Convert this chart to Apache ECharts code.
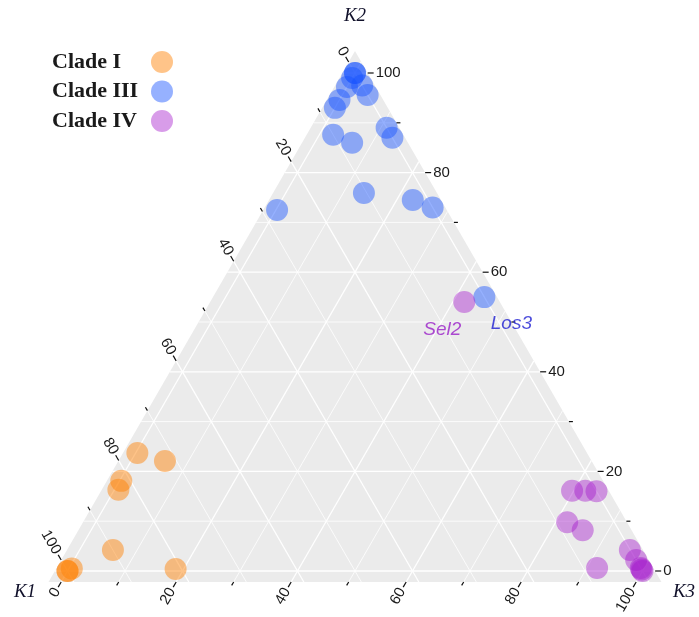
<!DOCTYPE html>
<html>
<head>
<meta charset="utf-8">
<script src="https://cdn.jsdelivr.net/npm/echarts@6/dist/echarts.min.js"></script>
<style>html,body{margin:0;padding:0;background:#fff}#c{width:699px;height:617px}</style>
</head>
<body>
<div id="c"></div>
<script>
// ---- data: [K1, K2, K3] compositions (percent) ----
const cladeI = [[100,0,0],[100,0,0],[99,0.5,0.5],[90,4.2,5.8],[81,0.4,18.6],[83,16.3,0.7],[81.6,18.1,0.3],[76,23.7,0.3],[72,22.1,5.9]];
const cladeIII = [[0,100,0],[0,100,0],[1,99,0],[0,97.5,2.5],[0,95.6,4.4],[2.8,97.2,0],[5.4,94.6,0],[7,93,0],[10,87.6,2.4],[7.5,86,6.5],[0,89,11],[0,87,13],[27.3,72.5,0.2],[10.5,75.9,13.6],[2.7,74.5,22.8],[0,73,27]];
const cladeIV = [[4.2,16.1,79.7],[1.9,16.1,82],[0,16,84],[8.2,9.8,82],[6.3,8.2,85.5],[0.1,4.2,95.7],[0,2.2,97.8],[0,0.6,99.4],[0,0.3,99.7],[0,0,100],[7.6,0.6,91.8]];
const los3 = [0,55,45];   // Clade III, labelled
const sel2 = [4,54,42];   // Clade IV, labelled
const seriesNames = ['Clade I','Clade III','Clade IV'];
const axisNames = ['K1','K2','K3'];
const gridValues = [0,10,20,30,40,50,60,70,80,90,100];
const tickLabels = ['0','20','40','60','80','100'];

const SQ = Math.sqrt(3)/2;
function toXY(k){ const s=k[0]+k[1]+k[2]; const b=k[1]*100/s, c=k[2]*100/s; return [c + b/2, b*SQ]; }
const D = 2.2; // panel expansion (ternary units)

function renderPanel(params, api){
  const P = (k1,k2,k3) => api.coord([k3 + k2/2, k2*SQ]);
  const ch = [];
  ch.push({type:'polygon', shape:{points:[P(100+2*D,-D,-D),P(-D,100+2*D,-D),P(-D,-D,100+2*D)]}, style:{fill:'#EBEBEB'}, silent:true});
  gridValues.forEach(v=>{
    const major = v%20===0;
    const segs = [
      [P(100-v+D, v, -D), P(-D, v, 100-v+D)],
      [P(v, 100-v+D, -D), P(v, -D, 100-v+D)],
      [P(100-v+D, -D, v), P(-D, 100-v+D, v)]
    ];
    segs.forEach(s=>ch.push({type:'line', shape:{x1:s[0][0],y1:s[0][1],x2:s[1][0],y2:s[1][1]}, style:{stroke:'#ffffff', lineWidth: major?1.3:0.8}, silent:true}));
  });
  const font = '15px "Liberation Sans"';
  gridValues.forEach(v=>{
    const major = v%20===0;
    const len = major?6:4;
    const lab = tickLabels[tickLabels.indexOf(String(v))];
    const defs = [
      {s:P(-D, v, 100-v+D), d:[1,0], rot:0, align:'left'},            // K2 right
      {s:P(100-v+D, -D, v), d:[-0.5,SQ], rot:Math.PI/3, align:'right'}, // K3 bottom
      {s:P(v, 100-v+D, -D), d:[-0.5,-SQ], rot:-Math.PI/3, align:'right'} // K1 left
    ];
    defs.forEach(t=>{
      const e=[t.s[0]+t.d[0]*len, t.s[1]+t.d[1]*len];
      ch.push({type:'line', shape:{x1:t.s[0],y1:t.s[1],x2:e[0],y2:e[1]}, style:{stroke:'#111', lineWidth:1.2}, silent:true});
      if (major && lab!==undefined){
        ch.push({type:'text', x:e[0]+t.d[0]*2, y:e[1]+t.d[1]*2, rotation:t.rot,
          style:{text:lab, font:font, fill:'#1a1a1a', align:t.align, verticalAlign:'middle'}, silent:true});
      }
    });
  });
  const tf = 'italic 19px "Liberation Serif"';
  ch.push({type:'text', x:355, y:16, style:{text:axisNames[1], font:tf, fill:'#10102a', align:'center', verticalAlign:'middle'}});
  ch.push({type:'text', x:25, y:592, style:{text:axisNames[0], font:tf, fill:'#10102a', align:'center', verticalAlign:'middle'}});
  ch.push({type:'text', x:684, y:592, style:{text:axisNames[2], font:tf, fill:'#10102a', align:'center', verticalAlign:'middle'}});
  return {type:'group', children:ch};
}

const colors = ['rgba(255,128,0,0.58)','rgba(20,80,255,0.56)','rgba(165,25,205,0.54)'];
const labelFont = {fontFamily:'Liberation Sans', fontStyle:'italic', fontSize:19};

const chart = echarts.init(document.getElementById('c'), null, {renderer:'canvas'});
chart.setOption({
  animation:false,
  grid:{left:67.5, top:73, width:575, height:498},
  xAxis:{type:'value', min:0, max:100, show:false},
  yAxis:{type:'value', min:0, max:100*SQ, show:false},
  legend:{orient:'vertical', left:52, top:51, padding:0, align:'right', itemWidth:22, itemHeight:22, itemGap:7.5, icon:'circle',
    formatter:'{a|{name}}',
    textStyle:{rich:{a:{fontFamily:'Liberation Serif', fontWeight:'bold', fontSize:22, lineHeight:22, color:'#1a1a1a', width:94, align:'left'}}},
    data:seriesNames},
  series:[
    {type:'custom', renderItem:renderPanel, data:[[0,0]], clip:false, silent:true, z:1},
    {type:'scatter', name:seriesNames[0], data:cladeI.map(toXY), symbolSize:22, clip:false, z:3,
      itemStyle:{color:colors[0]}},
    {type:'scatter', name:seriesNames[1], clip:false, z:3, symbolSize:22,
      data:cladeIII.map(toXY).concat([{value:toXY(los3), label:{show:true, formatter:'Los3', position:'inside', offset:[27,27], color:'#1E1ED2', ...labelFont}}]),
      itemStyle:{color:colors[1]}},
    {type:'scatter', name:seriesNames[2], clip:false, z:3, symbolSize:22,
      data:cladeIV.map(toXY).concat([{value:toXY(sel2), label:{show:true, formatter:'Sel2', position:'inside', offset:[-22,28], color:'#9A1FC8', ...labelFont}}]),
      itemStyle:{color:colors[2]}}
  ]
});
</script>
</body>
</html>
